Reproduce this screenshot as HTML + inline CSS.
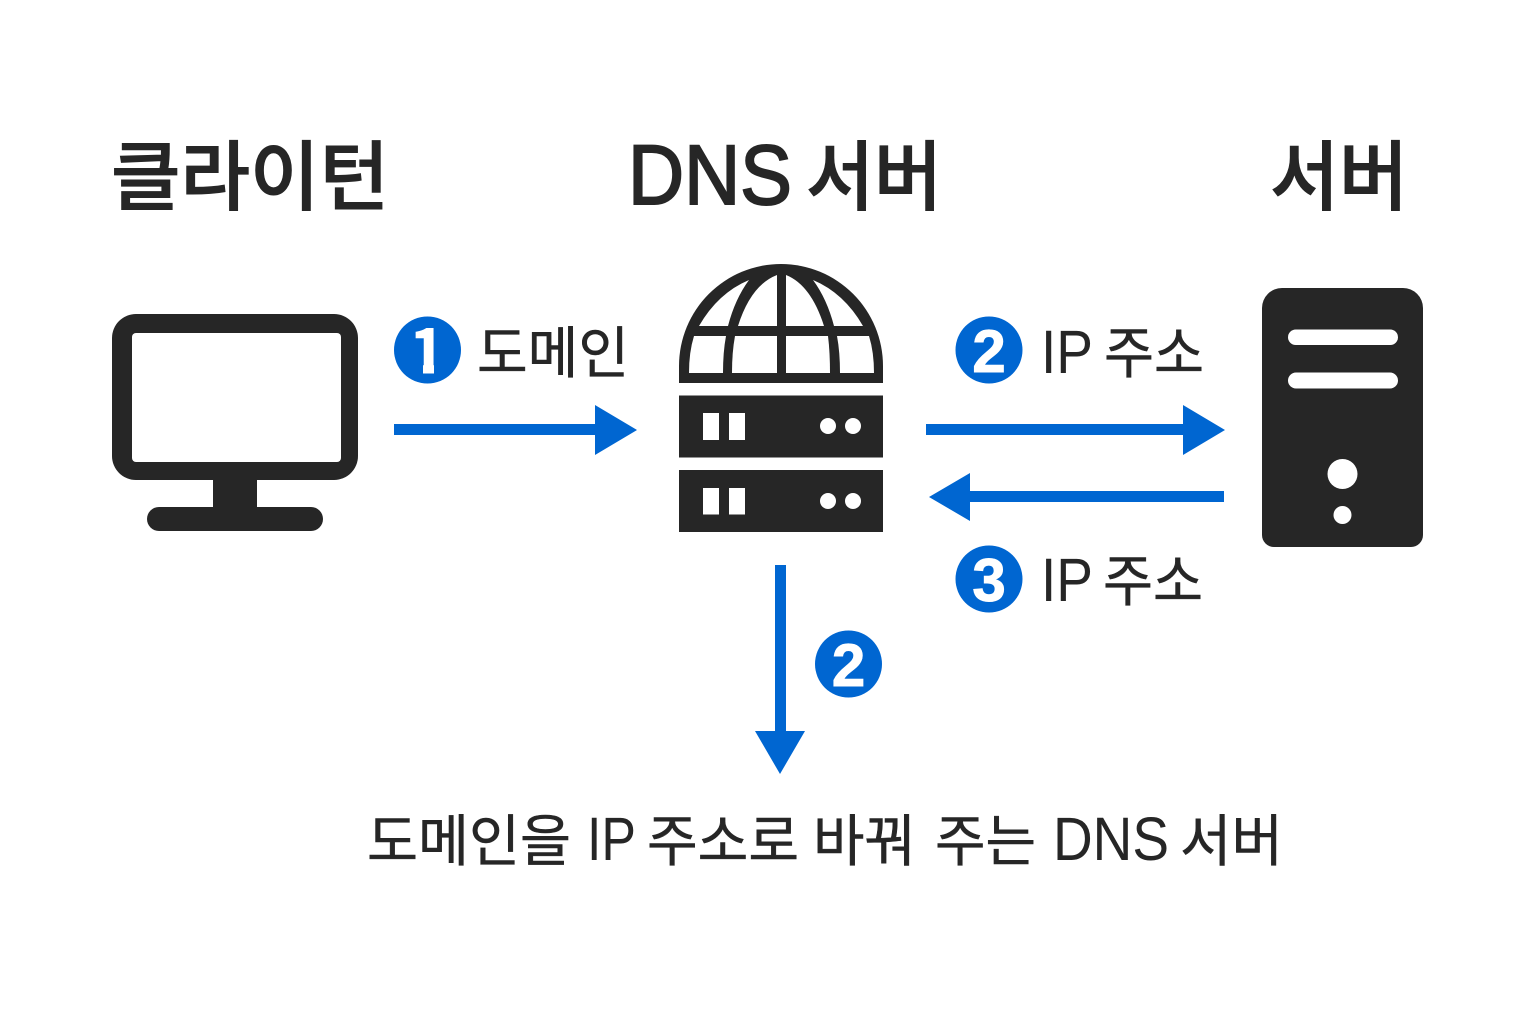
<!DOCTYPE html>
<html lang="ko">
<head>
<meta charset="utf-8">
<title>DNS</title>
<style>
html,body{margin:0;padding:0;background:#fff}
svg{display:block}
text{font-family:"Liberation Sans","Noto Sans CJK KR",sans-serif;fill:#262626}
.kr{font-family:"Noto Sans CJK KR","Liberation Sans",sans-serif}
.t{font-size:76px;font-weight:500;stroke:#262626;stroke-width:1px}
.tl{font-size:84px;stroke:#262626;stroke-width:2px}
.l{font-size:56px;font-weight:400;stroke:#262626;stroke-width:.5px}
.ll{font-size:61px;font-weight:400}
.b{font-size:60px;font-weight:700;fill:#fff;text-anchor:middle;stroke:#fff;stroke-width:1px}
</style>
</head>
<body>
<svg xmlns="http://www.w3.org/2000/svg" width="1536" height="1024" viewBox="0 0 1536 1024">
<rect width="1536" height="1024" fill="#fff"/>

<!-- Titles -->
<text class="kr t" x="111" y="204" textLength="278" lengthAdjust="spacingAndGlyphs">클라이턴</text>
<text class="tl" x="628" y="204" textLength="164" lengthAdjust="spacingAndGlyphs">DNS</text>
<text class="kr t" x="806" y="204" textLength="136" lengthAdjust="spacingAndGlyphs">서버</text>
<text class="kr t" x="1270" y="204" textLength="138" lengthAdjust="spacingAndGlyphs">서버</text>

<!-- Monitor -->
<rect x="112" y="314" width="246" height="166" rx="24" fill="#262626"/>
<rect x="132" y="333" width="209" height="129" rx="4" fill="#fff"/>
<rect x="213" y="478" width="44" height="32" fill="#262626"/>
<rect x="147" y="507" width="176" height="24" rx="12" fill="#262626"/>

<!-- Globe -->
<path d="M679 383V366A102 102 0 0 1 883 366V383Z" fill="#262626"/>
<g fill="#fff">
<path d="M699 326H728Q735 299 749 280Q718 293 699 326Z"/>
<path d="M738 326H777V275Q751 285 738 326Z"/>
<path d="M786 326H824Q811 285 786 275Z"/>
<path d="M834 326H863Q844 293 813 280Q827 299 834 326Z"/>
<path d="M694 336H726Q723 352 723 373H689Q689 352 694 336Z"/>
<path d="M735 336H777V373H732Q732 352 735 336Z"/>
<path d="M786 336H828Q830 352 830 373H786Z"/>
<path d="M837 336H869Q874 352 874 373H840Q840 352 837 336Z"/>
</g>

<!-- Racks -->
<rect x="679" y="395.500" width="204" height="62" fill="#262626"/>
<rect x="703" y="413" width="16" height="27" fill="#fff"/>
<rect x="729" y="413" width="16" height="27" fill="#fff"/>
<circle cx="828" cy="426" r="8" fill="#fff"/>
<circle cx="853" cy="426" r="8" fill="#fff"/>
<rect x="679" y="470" width="204" height="62" fill="#262626"/>
<rect x="703" y="488" width="16" height="26.500" fill="#fff"/>
<rect x="729" y="488" width="16" height="26.500" fill="#fff"/>
<circle cx="828" cy="501" r="8" fill="#fff"/>
<circle cx="853" cy="501" r="8" fill="#fff"/>

<!-- Tower server -->
<path d="M1282 288H1403A20 20 0 0 1 1423 308V535A12 12 0 0 1 1411 547H1274A12 12 0 0 1 1262 535V308A20 20 0 0 1 1282 288Z" fill="#262626"/>
<rect x="1288" y="329.500" width="110" height="15.500" rx="7.750" fill="#fff"/>
<rect x="1288" y="372.500" width="110" height="16" rx="8" fill="#fff"/>
<circle cx="1342.500" cy="474" r="15" fill="#fff"/>
<circle cx="1342.500" cy="515" r="9" fill="#fff"/>

<!-- Arrows -->
<g fill="#0066d1">
<path d="M394 424H595V405L637 430L595 455V435H394Z"/>
<path d="M926 424H1183V405L1225 430L1183 455V435H926Z"/>
<path d="M1224 491H970V473L929 497L970 521V502H1224Z"/>
<path d="M775 565H786V731H805L780 774L755 731H775Z"/>
<circle cx="427.500" cy="350" r="33.500"/>
<circle cx="989" cy="350" r="33.500"/>
<circle cx="989" cy="579" r="33.500"/>
<circle cx="848.500" cy="664" r="33.500"/>
</g>
<text class="kr b" x="427.500" y="373">1</text>
<rect x="408" y="356" width="15" height="20" fill="#0066d1"/>
<rect x="434" y="356" width="14" height="20" fill="#0066d1"/>
<text class="b" x="989" y="372">2</text>
<text class="b" x="989" y="601">3</text>
<text class="b" x="848.500" y="686">2</text>

<!-- Labels -->
<text class="kr l" x="477" y="373" textLength="152" lengthAdjust="spacingAndGlyphs">도메인</text>
<text class="ll" x="1041" y="373" textLength="52" lengthAdjust="spacingAndGlyphs">IP</text>
<text class="kr l" x="1104" y="373" textLength="100" lengthAdjust="spacingAndGlyphs">주소</text>
<text class="ll" x="1041" y="601" textLength="52" lengthAdjust="spacingAndGlyphs">IP</text>
<text class="kr l" x="1103" y="601" textLength="100" lengthAdjust="spacingAndGlyphs">주소</text>

<text class="kr l" x="367" y="861" textLength="204" lengthAdjust="spacingAndGlyphs">도메인을</text>
<text class="ll" x="587" y="860" textLength="49" lengthAdjust="spacingAndGlyphs">IP</text>
<text class="kr l" x="647" y="861" textLength="152" lengthAdjust="spacingAndGlyphs">주소로</text>
<text class="kr l" x="813" y="861" textLength="103" lengthAdjust="spacingAndGlyphs">바꿔</text>
<text class="kr l" x="935" y="861" textLength="101" lengthAdjust="spacingAndGlyphs">주는</text>
<text class="ll" x="1053" y="860" textLength="116" lengthAdjust="spacingAndGlyphs">DNS</text>
<text class="kr l" x="1180" y="861" textLength="103" lengthAdjust="spacingAndGlyphs">서버</text>
</svg>
</body>
</html>
